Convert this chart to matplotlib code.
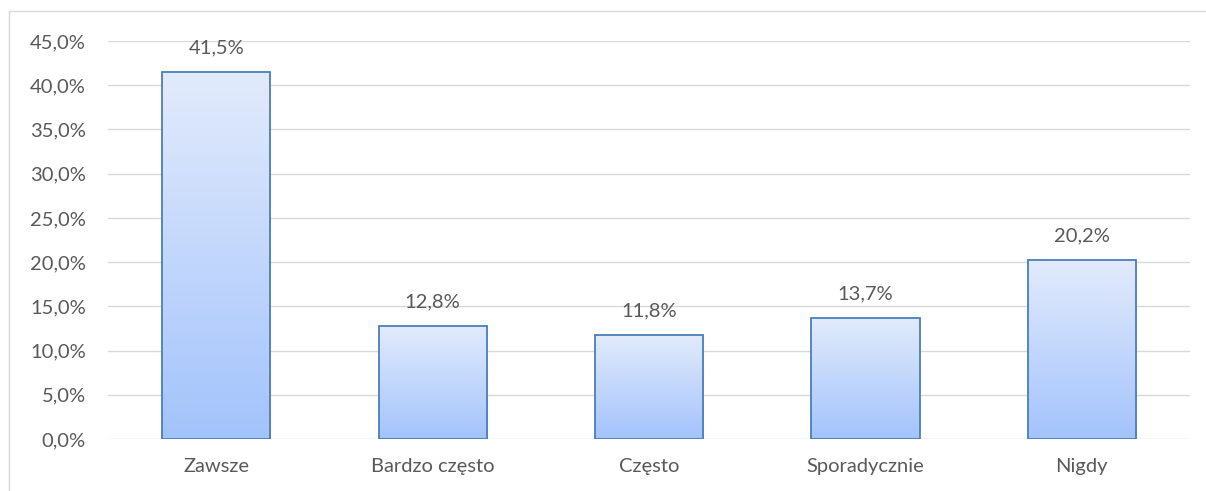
import numpy as np
import matplotlib.pyplot as plt
from matplotlib.colors import LinearSegmentedColormap
from matplotlib.lines import Line2D

categories = ["Zawsze", "Bardzo często", "Często", "Sporadycznie", "Nigdy"]
values = [41.5, 12.8, 11.8, 13.7, 20.2]
yticks = [0, 5, 10, 15, 20, 25, 30, 35, 40, 45]

plt.rcParams['font.family'] = ['Lato', 'DejaVu Sans']
text_col = '#595959'
fs = 14.5

fig = plt.figure(figsize=(12.06, 4.91), dpi=100)
W, H = 1206, 491
ax = fig.add_axes([108 / W, (H - 439) / H, (1190 - 108) / W, (439 - 41) / H])

x = np.arange(len(categories))
bars = ax.bar(x, values, width=0.5, color='none', edgecolor='#4a7ebb', linewidth=1.3, zorder=3)

# gradient fill, light on top, darker at bottom
cmap = LinearSegmentedColormap.from_list('g', ['#a3c3fb', '#e2ebfc'])
grad = np.linspace(0, 1, 256).reshape(-1, 1)
for b in bars:
    x0, y0 = b.get_x(), b.get_y()
    im = ax.imshow(grad, cmap=cmap, origin='lower', aspect='auto',
                   extent=[x0, x0 + b.get_width(), y0, y0 + b.get_height()], zorder=2)
    im.set_clip_path(b)

for xi, v in zip(x, values):
    ax.text(xi, v + 1.75, f"{v:.1f}%".replace('.', ','), ha='center', va='bottom',
            fontsize=fs, color=text_col)

ax.set_xlim(-0.5, len(categories) - 0.5)
ax.set_ylim(0, 45)
ax.set_yticks(yticks)
ax.set_yticklabels([f"{t:.1f}%".replace('.', ',') for t in yticks])
ax.set_xticks(x)
ax.set_xticklabels(categories)
ax.tick_params(axis='both', length=0, labelsize=fs, labelcolor=text_col)
ax.tick_params(axis='y', pad=16)
ax.tick_params(axis='x', pad=14)
ax.grid(axis='y', color='#d9d9d9', linewidth=1, zorder=0)
for s in ax.spines.values():
    s.set_visible(False)

# outer chart frame
fig.add_artist(Line2D([8.5 / W, 8.5 / W], [0, 1 - 11 / H], color='#d9d9d9', linewidth=1, transform=fig.transFigure))
fig.add_artist(Line2D([8.5 / W, 1], [1 - 11 / H, 1 - 11 / H], color='#d9d9d9', linewidth=1, transform=fig.transFigure))

fig.savefig('out.png', dpi=100)
